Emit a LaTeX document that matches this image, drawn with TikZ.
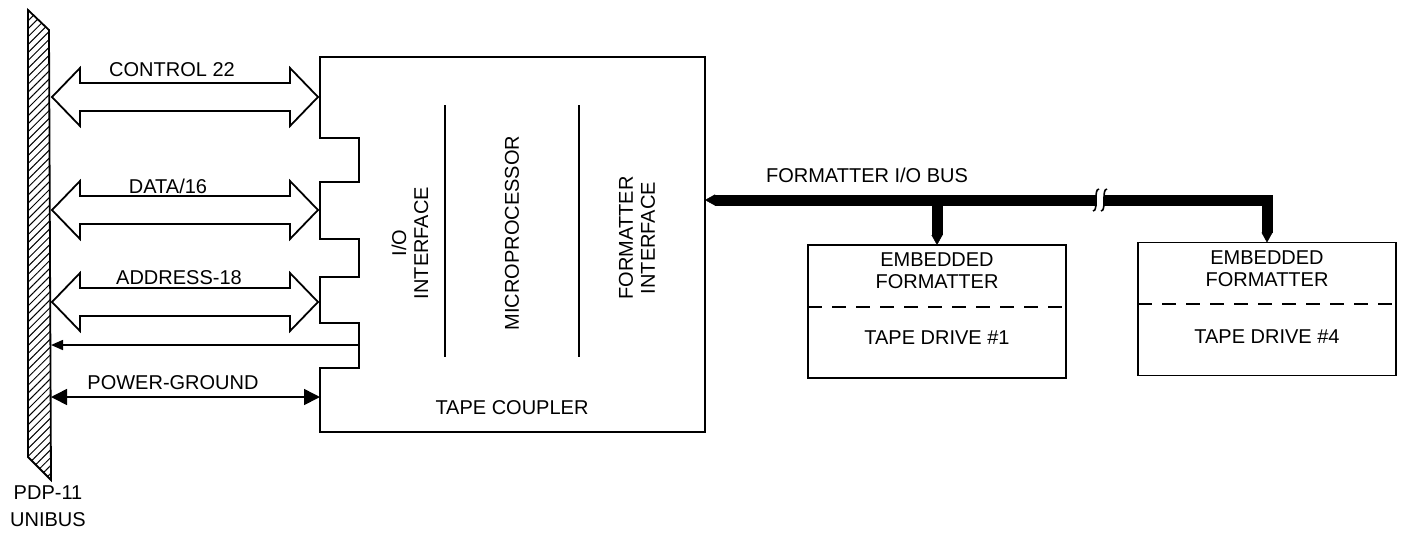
\documentclass[tikz,border=0pt]{standalone}
\usepackage{fontspec}
\setmainfont{Liberation Sans}
\usetikzlibrary{arrows.meta,positioning,calc,patterns.meta}

\begin{document}
\begin{tikzpicture}[
  x=0.5pt, y=-0.5pt,
  line width=0.9pt,
  lbl/.style={font=\fontsize{10}{11}\selectfont, inner sep=1pt, align=center},
  hollow/.style={draw, line join=miter},
  unibus/.style={draw, pattern={Lines[angle=45,distance=2.8pt,line width=0.5pt]}},
  drivebox/.style={draw, minimum width=129pt, minimum height=66.5pt, outer sep=0pt},
  fmtbus/.style={line width=5.5pt, line join=miter},
  bustip/.style={-{Triangle[length=5pt,width=5.5pt,line width=0.2pt]}},
  bustips/.style={{Triangle[length=5pt,width=5.5pt,line width=0.2pt]}-{Triangle[length=5pt,width=5.5pt,line width=0.2pt]}},
  wire/.style={line width=0.8pt},
  sigarrow/.style={wire, -{Triangle[length=6pt,width=5pt]}},
  pwrarrow/.style={wire, {Triangle[length=8pt,width=8pt]}-{Triangle[length=8pt,width=8pt]}},
  divider/.style={dash pattern=on 7pt off 5pt}
]
\useasboundingbox (0,0) rectangle (1409,532);

% unibus
\draw[unibus] (28,10) -- (49,30) -- (51,480) -- (28,457) -- cycle;
\node[lbl] (unibuslbl) at (48,506) {PDP-11\\[2.5pt]UNIBUS};

% tape coupler
\node[minimum width=192.5pt, minimum height=187.5pt, outer sep=0pt] (coupler) at (512.5,244.5) {};
\draw (coupler.north west) -- (coupler.north east) -- (coupler.south east) -- (coupler.south west)
  -- (320,368) -- (359,368) -- (359,323) -- (320,323) -- (320,277) -- (359,277)
  -- (359,239) -- (320,239) -- (320,182) -- (359,182) -- (359,138) -- (320,138) -- cycle;
\draw (445,105) -- (445,357);
\draw (579,105) -- (579,357);
\node[lbl, rotate=90] (ioif) at (410,243) {I/O\\INTERFACE};
\node[lbl, rotate=90] (mproc) at (512,233) {MICROPROCESSOR};
\node[lbl, rotate=90] (fmtif) at (637,238) {FORMATTER\\INTERFACE};
\node[lbl] (cplname) at (512,408) {TAPE COUPLER};

% unibus lines
\foreach \y in {97,210,302}
  \draw[hollow] (52,\y) -- ++(28,-29) -- ++(0,15) -- (290,\y-14) -- ++(0,-15) -- (318,\y)
    -- ++(-28,29) -- ++(0,-15) -- (80,\y+14) -- ++(0,15) -- cycle;
\node[lbl, anchor=base] (ctl) at (172,76) {CONTROL 22};
\node[lbl, anchor=base] (dat) at (168,193) {DATA/16};
\node[lbl, anchor=base] (adr) at (179,284) {ADDRESS-18};
\node[lbl, anchor=base] (pwr) at (173,389) {POWER-GROUND};

\coordinate (intr) at (359,345);
\coordinate (busintr) at (51,345);
\coordinate (buspwr) at (51,397);
\draw[sigarrow] (intr) -- (busintr);
\draw[pwrarrow] (buspwr) -- (coupler.west |- buspwr);

% drives
\node[drivebox] (drive1) at (937,311.5) {};
\node[drivebox] (drive4) at (1267,309) {};
\draw[divider] ($(drive1.north west)!0.465!(drive1.south west)$) -- ($(drive1.north east)!0.465!(drive1.south east)$);
\draw[divider] ($(drive4.north west)!0.46!(drive4.south west)$) -- ($(drive4.north east)!0.46!(drive4.south east)$);
\node[lbl] (emb1) at ($(drive1.north)+(0,26)$) {EMBEDDED\\FORMATTER};
\node[lbl] (tape1) at ($(drive1.south)+(0,-40)$) {TAPE DRIVE \#1};
\node[lbl] (emb4) at ($(drive4.north)+(0,26)$) {EMBEDDED\\FORMATTER};
\node[lbl] (tape4) at ($(drive4.south)+(0,-39)$) {TAPE DRIVE \#4};

% formatter bus
\coordinate (busend) at (drive4.north |- 0,200);
\draw[fmtbus, bustips] (coupler.east |- busend) -- (busend) -- (drive4.north);
\draw[fmtbus, bustip] (drive1.north |- busend) -- (drive1.north);
\node[lbl] (buslbl) at (867,175) {FORMATTER I/O BUS};
\fill[white] (1097,191) rectangle (1104,209);
\draw[wire] (1093,211) .. controls (1099,211) and (1093,189) .. (1099,189);
\draw[wire] (1101,211) .. controls (1107,211) and (1101,189) .. (1107,189);
\end{tikzpicture}
\end{document}
